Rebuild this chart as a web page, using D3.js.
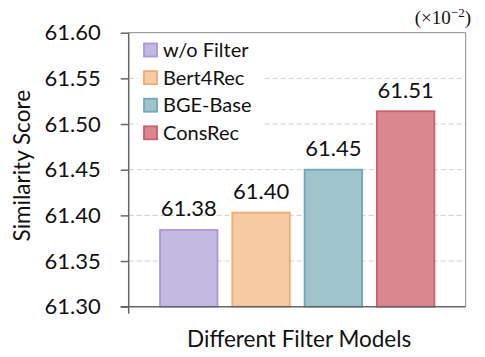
<!DOCTYPE html>
<html>
<head>
<meta charset="utf-8">
<script src="https://cdn.jsdelivr.net/npm/d3@7"></script>
<style>
  body { margin: 0; background: #fff; }
  text { font-family: Lato, "Open Sans", sans-serif; fill: #111; }
</style>
</head>
<body>
<svg width="485" height="357"></svg>
<script>
// data
var models = ["w/o Filter", "Bert4Rec", "BGE-Base", "ConsRec"];
var scores = [61.384, 61.403, 61.450, 61.514];
var scoreLabels = ["61.38", "61.40", "61.45", "61.51"];
var yTicks = [61.30, 61.35, 61.40, 61.45, 61.50, 61.55, 61.60];
var fills = ["#c4b9e1", "#f6caa3", "#9fc4cc", "#d98890"];
var strokes = ["#ab98d8", "#f0ab70", "#6fa9b6", "#cf5d6b"];

var svg = d3.select("svg"),
    plotL = 128.7, plotR = 465.7, plotT = 32.7, plotB = 306.7;

var x = d3.scaleBand().domain(models).range([plotL, plotR])
    .paddingInner(0.205).paddingOuter(0.433);
var y = d3.scaleLinear().domain([61.30, 61.60]).range([plotB, plotT]);

// dashed grid
svg.append("g")
    .selectAll("line")
    .data(yTicks.slice(1, -1))
    .enter().append("line")
    .attr("x1", plotL).attr("x2", plotR)
    .attr("y1", function (d) { return y(d); })
    .attr("y2", function (d) { return y(d); })
    .attr("stroke", "#cfcfcf")
    .attr("stroke-width", 1)
    .attr("stroke-dasharray", "5,3");

// top / right frame
svg.append("path")
    .attr("d", "M" + plotL + "," + plotT + "H" + plotR + "V" + plotB)
    .attr("fill", "none").attr("stroke", "#8a8a8a").attr("stroke-width", 1);

// bars
svg.selectAll(".bar")
    .data(models)
    .enter().append("rect")
    .attr("class", "bar")
    .attr("x", function (d) { return x(d); })
    .attr("y", function (d, i) { return y(scores[i]); })
    .attr("width", x.bandwidth())
    .attr("height", function (d, i) { return plotB - y(scores[i]); })
    .attr("fill", function (d, i) { return fills[i]; })
    .attr("stroke", function (d, i) { return strokes[i]; })
    .attr("stroke-width", 1.8);

// value labels
svg.selectAll(".val")
    .data(models)
    .enter().append("text")
    .attr("x", function (d) { return x(d) + x.bandwidth() / 2; })
    .attr("y", function (d, i) { return y(scores[i]) - 13.5; })
    .attr("text-anchor", "middle")
    .attr("font-size", "22px")
    .text(function (d, i) { return scoreLabels[i]; });

// y axis
var yAxis = d3.axisLeft(y).tickValues(yTicks).tickSize(8).tickPadding(20)
    .tickFormat(d3.format(".2f"));
var gy = svg.append("g")
    .attr("transform", "translate(" + plotL + ",0)")
    .call(yAxis);
gy.select(".domain").attr("stroke", "#666").attr("stroke-width", 1.5)
    .attr("d", "M0," + (plotB + 7) + "V" + plotT);
gy.selectAll(".tick line").attr("stroke", "#666").attr("stroke-width", 1.5);
gy.selectAll(".tick text").attr("font-size", "22px")
    .attr("font-family", "Lato, sans-serif").attr("fill", "#111");

// x axis line
var gx = svg.append("g")
    .attr("transform", "translate(0," + plotB + ")")
    .call(d3.axisBottom(x).tickSize(0).tickFormat(""));
gx.select(".domain").attr("stroke", "#666").attr("stroke-width", 1.5)
    .attr("d", "M" + (plotL - 8) + ",0H" + plotR);

// axis titles
svg.append("text")
    .attr("transform", "translate(30," + ((plotT + plotB) / 2 - 4) + ") rotate(-90)")
    .attr("text-anchor", "middle")
    .attr("font-size", "22.5px")
    .text("Similarity Score");

svg.append("text")
    .attr("x", (plotL + plotR) / 2 + 2)
    .attr("y", 347)
    .attr("text-anchor", "middle")
    .attr("font-size", "22.5px")
    .text("Different Filter Models");

// scale note
svg.append("text")
    .attr("x", 471).attr("y", 24)
    .attr("text-anchor", "end")
    .attr("font-size", "19px")
    .style("font-family", "'Liberation Serif', 'DejaVu Serif', serif")
    .html("(\u00d710<tspan dy='-7' font-size='13px'>\u22122</tspan><tspan dy='7'>)</tspan>");

// legend
var legend = svg.append("g");
legend.append("rect")
    .attr("x", 138).attr("y", 36).attr("width", 124).attr("height", 110)
    .attr("fill", "#fff");
var item = legend.selectAll(".item")
    .data(models)
    .enter().append("g")
    .attr("transform", function (d, i) { return "translate(144," + (50 + i * 27.6) + ")"; });
item.append("rect")
    .attr("x", 0).attr("y", -6.5).attr("width", 13).attr("height", 13)
    .attr("fill", function (d, i) { return fills[i]; })
    .attr("stroke", function (d, i) { return strokes[i]; })
    .attr("stroke-width", 1.8);
item.append("text")
    .attr("x", 19).attr("y", 7)
    .attr("font-size", "20px")
    .text(function (d) { return d; });
</script>
</body>
</html>
